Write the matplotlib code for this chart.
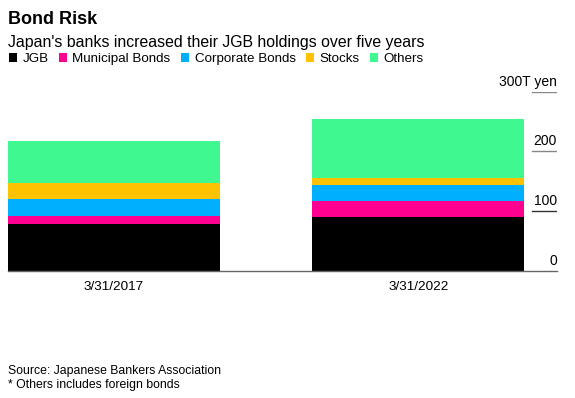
import matplotlib
matplotlib.use("Agg")
import matplotlib.pyplot as plt

plt.rcParams['font.family'] = ['Liberation Sans', 'DejaVu Sans']

# data (trillion yen)
dates = ['3/31/2017', '3/31/2022']
series = ['JGB', 'Municipal Bonds', 'Corporate Bonds', 'Stocks', 'Others']
jgb = [78.5, 91.0]
municipal = [13.5, 25.7]
corporate = [28.5, 26.8]
stocks = [26.3, 12.8]
others = [70.5, 97.7]
colors = ['#000000', '#ff0090', '#00b0ff', '#ffc200', '#40f890']
yticks = [0, 100, 200, 300]

fig = plt.figure(figsize=(5.75, 3.98), dpi=100)
W, H = 575, 398
x0, x1 = 8, 557
ybot, ytop = 271, 91.7
ax = fig.add_axes([x0 / W, (H - ybot) / H, (x1 - x0) / W, (ybot - ytop) / H])

pos = list(range(len(dates)))
bottom = [0] * len(dates)
for name, vals, c in zip(series, [jgb, municipal, corporate, stocks, others], colors):
    ax.bar(pos, vals, width=0.696, bottom=bottom, color=c, label=name, linewidth=0)
    bottom = [b + v for b, v in zip(bottom, vals)]

ax.set_xlim(-0.348, 1.455)
ax.set_ylim(0, 300)
for s in ['top', 'right', 'left']:
    ax.spines[s].set_visible(False)
ax.spines['bottom'].set_color('#666666')
ax.spines['bottom'].set_linewidth(1.0)
ax.set_yticks([])
ax.set_xticks(pos)
ax.set_xticklabels(dates, fontsize=9.7)
ax.tick_params(axis='x', length=0, pad=7)

xmin = (532 - x0) / (x1 - x0)
for t in yticks:
    if t > 0:
        ax.axhline(t, xmin=xmin, xmax=1, color='#333333' if t == 100 else '#888888', linewidth=1.0)
    lab = f'{t}T yen' if t == yticks[-1] else str(t)
    ax.text(1.0, t + 5, lab, transform=ax.get_yaxis_transform(), ha='right', va='bottom', fontsize=10)

fig.text(8 / W, 1 - 19 / H, 'Bond Risk', fontsize=13, fontweight='bold', va='center')
fig.text(8 / W, 1 - 43 / H, "Japan's banks increased their JGB holdings over five years", fontsize=11.4, va='center')
fig.legend(loc='center left', bbox_to_anchor=(9 / W, 1 - 59 / H), ncol=5, frameon=False,
           fontsize=9.6, handlelength=0.6, handleheight=0.6, handletextpad=0.4,
           columnspacing=0.8, borderaxespad=0, borderpad=0)
fig.text(8 / W, 1 - 371 / H, 'Source: Japanese Bankers Association', fontsize=8.8, va='center')
fig.text(8 / W, 1 - 385 / H, '* Others includes foreign bonds', fontsize=8.8, va='center')

fig.savefig('out.png', dpi=100)
